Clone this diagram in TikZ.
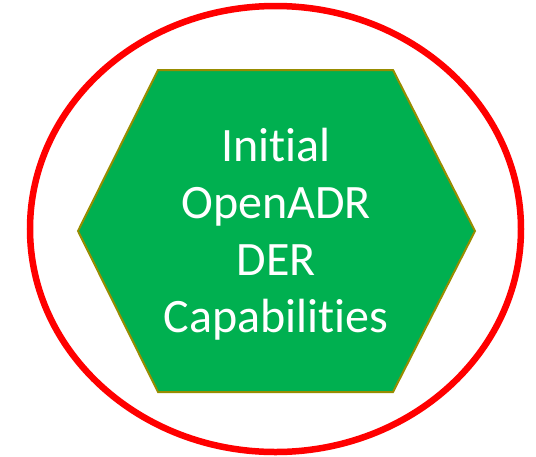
\documentclass[tikz,border=0pt]{standalone}
\usepackage{fontspec}
\setmainfont[Ligatures=NoCommon]{Carlito}
\usetikzlibrary{positioning}

\definecolor{hexgreen}{RGB}{0,176,80}
\definecolor{hexrim}{RGB}{152,140,0}

\tikzset{
    ring/.style={draw=red, line width=6.5pt},
    hexface/.style={fill=hexgreen, draw=hexrim, line width=2pt, line join=miter},
    caption/.style={text=white, align=center, font=\fontsize{48}{57}\selectfont, inner sep=0pt}
}

\begin{document}
\begin{tikzpicture}[x=1pt, y=-1pt]
    \useasboundingbox (0,0) rectangle (536,456);

    % outer ring
    \draw[ring] (275.5,229) ellipse [x radius=245.5, y radius=223];

    % hexagon
    \coordinate (hl) at (78,231);
    \coordinate (htl) at (158,70);
    \coordinate (htr) at (393,70);
    \coordinate (hr) at (475,231);
    \coordinate (hbr) at (393,392);
    \coordinate (hbl) at (158,392);
    \draw[hexface] (hl) -- (htl) -- (htr) -- (hr) -- (hbr) -- (hbl) -- cycle;

    \node[caption] (title) at (276,234) {Initial\\OpenADR\\DER\\Capabilities};
\end{tikzpicture}
\end{document}
